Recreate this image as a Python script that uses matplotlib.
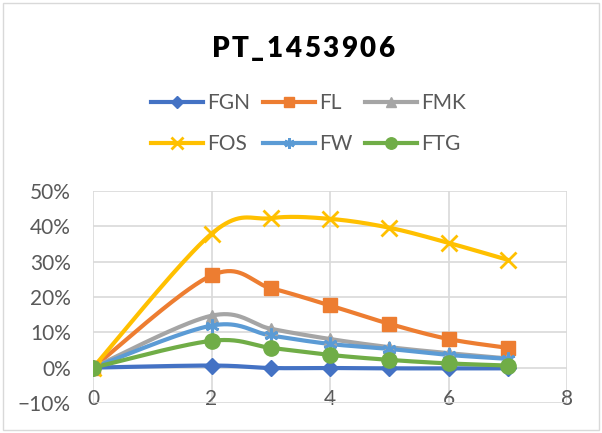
import numpy as np
import matplotlib.pyplot as plt
from matplotlib.patches import Rectangle
from matplotlib.ticker import PercentFormatter

plt.rcParams['font.family'] = ['Lato', 'DejaVu Sans']

# data
x = [0, 2, 3, 4, 5, 6, 7]
series = ['FGN', 'FL', 'FMK', 'FOS', 'FW', 'FTG']
fgn = [0.0, 0.006, -0.001, -0.001, -0.002, -0.002, -0.002]
fl = [0.0, 0.261, 0.225, 0.176, 0.124, 0.081, 0.056]
fmk = [0.0, 0.147, 0.110, 0.081, 0.058, 0.041, 0.026]
fos = [0.0, 0.379, 0.423, 0.421, 0.396, 0.353, 0.305]
fw = [0.0, 0.119, 0.091, 0.067, 0.053, 0.036, 0.025]
ftg = [0.0, 0.076, 0.056, 0.036, 0.022, 0.012, 0.006]
values = [fgn, fl, fmk, fos, fw, ftg]
title = 'PT_1453906'

colors = ['#4472C4', '#ED7D31', '#A5A5A5', '#FFC000', '#5B9BD5', '#70AD47']
markers = ['D', 's', '^', 'x', (6, 2, 0), 'o']
msizes = [8, 10, 9, 11, 10, 11]


def smooth(xs, ys, n=40):
    # excel-like bezier smoothing
    p = np.column_stack([xs, ys]).astype(float)
    out = [p[0]]
    for i in range(len(p) - 1):
        a = p[i - 1] if i > 0 else p[i]
        d = p[i + 2] if i + 2 < len(p) else p[i + 1]
        c1 = p[i] + (p[i + 1] - a) / 6
        c2 = p[i + 1] - (d - p[i]) / 6
        t = np.linspace(0, 1, n)[1:, None]
        seg = ((1 - t) ** 3) * p[i] + 3 * ((1 - t) ** 2) * t * c1 + 3 * (1 - t) * t ** 2 * c2 + t ** 3 * p[i + 1]
        out.extend(seg)
    out = np.array(out)
    return out[:, 0], out[:, 1]


fig = plt.figure(figsize=(6.02, 4.33), dpi=100)
ax = fig.add_axes([0.1545, 0.0693, 0.7875, 0.4897])

handles = {}
for name, ys, c, m, ms in zip(series, values, colors, markers, msizes):
    mew = 2 if m == 'x' or isinstance(m, tuple) else 1
    sx, sy = smooth(x, ys)
    ax.plot(sx, sy, color=c, lw=3, solid_capstyle='round', zorder=3)
    ax.plot(x, ys, ls='none', marker=m, ms=ms, color=c, mec=c, mew=mew, zorder=4)
    handles[name] = plt.Line2D([], [], color=c, lw=3, marker=m, ms=ms * 0.75, mec=c, mew=mew)

ax.set_xlim(0, 8)
ax.set_ylim(-0.1, 0.5)
ax.set_xticks([0, 2, 4, 6, 8])
ax.set_yticks(np.arange(-0.1, 0.51, 0.1))
ax.yaxis.set_major_formatter(PercentFormatter(1.0, decimals=0))
ax.grid(True, color='#D9D9D9', lw=1.2, zorder=0)
ax.set_axisbelow(True)
for s in ax.spines.values():
    s.set_visible(False)
ax.tick_params(length=0, labelsize=15, labelcolor='#595959')
ax.tick_params(axis='y', pad=16)
ax.tick_params(axis='x', pad=-10)

order = ['FGN', 'FOS', 'FL', 'FW', 'FMK', 'FTG']
fig.legend([handles[k] for k in order], order, ncol=3, loc='center',
           bbox_to_anchor=(0.512, 0.715), frameon=False, fontsize=15,
           handlelength=2.5, handletextpad=0.2, columnspacing=0.6,
           labelspacing=1.0, labelcolor='#595959')

# title with wide letter spacing, one char at a time
renderer = fig.canvas.get_renderer()
spacing = 2.5  # px between letters
texts = [fig.text(0, 0.887, ch, fontsize=20, fontweight='heavy', va='center') for ch in title]
widths = [t.get_window_extent(renderer).width for t in texts]
total = sum(widths) + spacing * (len(texts) - 1)
xpos = 303 - total / 2
for t, w in zip(texts, widths):
    t.set_x(xpos / fig.bbox.width)
    xpos += w + spacing

fig.add_artist(Rectangle((0.005, 0.007), 0.99, 0.986, transform=fig.transFigure,
                         fill=False, ec='#D9D9D9', lw=1))

fig.savefig('out.png', dpi=100)
